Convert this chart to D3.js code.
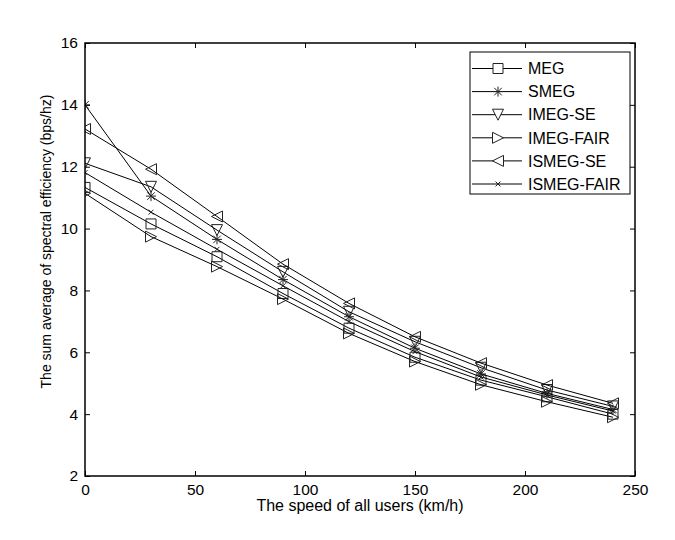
<!DOCTYPE html>
<html><head><meta charset="utf-8">
<script src="https://cdn.jsdelivr.net/npm/d3@7"></script>
<style>body{margin:0;background:#fff}</style>
</head><body>
<script>
const speeds = [0, 30, 60, 90, 120, 150, 180, 210, 240];
const MEG        = [11.33, 10.15, 9.09, 7.90, 6.78, 5.84, 5.10, 4.56, 4.00];
const SMEG       = [14.00, 11.05, 9.65, 8.35, 7.15, 6.13, 5.30, 4.67, 4.15];
const IMEG_SE    = [12.11, 11.35, 9.95, 8.60, 7.31, 6.34, 5.50, 4.78, 4.25];
const IMEG_FAIR  = [11.14, 9.74, 8.77, 7.72, 6.61, 5.70, 4.95, 4.40, 3.90];
const ISMEG_SE   = [13.22, 11.92, 10.39, 8.85, 7.58, 6.50, 5.65, 4.94, 4.35];
const ISMEG_FAIR = [11.81, 10.53, 9.33, 8.15, 6.99, 6.02, 5.20, 4.62, 4.10];
const seriesNames = ["MEG", "SMEG", "IMEG-SE", "IMEG-FAIR", "ISMEG-SE", "ISMEG-FAIR"];
const seriesValues = [MEG, SMEG, IMEG_SE, IMEG_FAIR, ISMEG_SE, ISMEG_FAIR];
const markerTypes = ["square", "star", "tridown", "triright", "trileft", "xmark"];
const xTicks = [0, 50, 100, 150, 200, 250];
const yTicks = [2, 4, 6, 8, 10, 12, 14, 16];

const W = 675, H = 540;
const L = 85, R = 635, T = 43, B = 476;
const font = "Liberation Sans, Arial, sans-serif";
const svg = d3.select("body").append("svg").attr("width", W).attr("height", H);
const x = d3.scaleLinear().domain([0, 250]).range([L, R]);
const y = d3.scaleLinear().domain([2, 16]).range([B, T]);

svg.append("defs").append("clipPath").attr("id", "clip")
  .append("rect").attr("x", L).attr("y", T).attr("width", R - L).attr("height", B - T);

function markerPath(type, s) {
  const h = s / 2;
  switch (type) {
    case "square": return `M${-h},${-h}H${h}V${h}H${-h}Z`;
    case "star": {
      const d = h * 0.75;
      return `M0,${-h}V${h}M${-h},0H${h}M${-d},${-d}L${d},${d}M${-d},${d}L${d},${-d}`;
    }
    case "tridown": return `M${-h},${-h}L${h},${-h}L0,${h}Z`;
    case "triright": return `M${-h},${-h}L${h},0L${-h},${h}Z`;
    case "trileft": return `M${h},${-h}L${-h},0L${h},${h}Z`;
    case "xmark": { const d = h * 0.7; return `M${-d},${-d}L${d},${d}M${-d},${d}L${d},${-d}`; }
  }
}
const sizes = { square: 10, star: 10, tridown: 11, triright: 11, trileft: 11, xmark: 7 };

const line = d3.line().x((d, i) => x(speeds[i])).y(d => y(d));
const gPlot = svg.append("g").attr("clip-path", "url(#clip)");
seriesValues.forEach((vals, k) => {
  gPlot.append("path").attr("d", line(vals)).attr("fill", "none")
    .attr("stroke", "#000").attr("stroke-width", 1);
  gPlot.selectAll(null).data(vals).enter().append("path")
    .attr("transform", (d, i) => `translate(${x(speeds[i])},${y(d)})`)
    .attr("d", markerPath(markerTypes[k], sizes[markerTypes[k]]))
    .attr("fill", "none").attr("stroke", "#222").attr("stroke-width", 1);
});

// axes with inward ticks (box)
const tl = 5;
const axB = svg.append("g").attr("transform", `translate(0,${B})`)
  .call(d3.axisBottom(x).tickValues(xTicks).tickSizeInner(-tl).tickSizeOuter(0).tickPadding(8));
const axT = svg.append("g").attr("transform", `translate(0,${T})`)
  .call(d3.axisTop(x).tickValues(xTicks).tickSizeInner(-tl).tickSizeOuter(0).tickFormat(""));
const axL = svg.append("g").attr("transform", `translate(${L},0)`)
  .call(d3.axisLeft(y).tickValues(yTicks).tickSizeInner(-tl).tickSizeOuter(0).tickPadding(7));
const axR = svg.append("g").attr("transform", `translate(${R},0)`)
  .call(d3.axisRight(y).tickValues(yTicks).tickSizeInner(-tl).tickSizeOuter(0).tickFormat(""));
[axB, axT, axL, axR].forEach(a => {
  a.select(".domain").remove();
  a.selectAll("line").attr("stroke", "#000").attr("stroke-width", 1);
  a.selectAll("text").attr("font-family", font).attr("font-size", 15.5).attr("fill", "#000");
});
axB.selectAll("text").attr("dy", "0.71em");
svg.append("rect").attr("x", L).attr("y", T).attr("width", R - L).attr("height", B - T)
  .attr("fill", "none").attr("stroke", "#000").attr("stroke-width", 1.5);

svg.append("text").attr("x", (L + R) / 2).attr("y", 511).attr("text-anchor", "middle")
  .attr("font-family", font).attr("font-size", 16).text("The speed of all users (km/h)");
svg.append("text").attr("transform", `translate(51,${(T + B) / 2 - 18}) rotate(-90)`)
  .attr("text-anchor", "middle").attr("font-family", font).attr("font-size", 14)
  .text("The sum average of spectral efficiency (bps/hz)");

// legend
const lg = svg.append("g");
lg.append("rect").attr("x", 470).attr("y", 52).attr("width", 160).attr("height", 142)
  .attr("fill", "#fff").attr("stroke", "#000").attr("stroke-width", 1);
seriesNames.forEach((name, k) => {
  const yy = 68.5 + k * 23.1;
  lg.append("line").attr("x1", 472).attr("x2", 522).attr("y1", yy).attr("y2", yy)
    .attr("stroke", "#000").attr("stroke-width", 1);
  lg.append("path").attr("transform", `translate(498,${yy})`)
    .attr("d", markerPath(markerTypes[k], sizes[markerTypes[k]]))
    .attr("fill", "#fff").attr("fill-opacity", markerTypes[k] === "star" || markerTypes[k] === "xmark" ? 0 : 1)
    .attr("stroke", "#222").attr("stroke-width", 1);
  lg.append("text").attr("x", 528).attr("y", yy).attr("dy", "0.36em")
    .attr("font-family", font).attr("font-size", 16).text(name);
});
</script>
</body></html>
